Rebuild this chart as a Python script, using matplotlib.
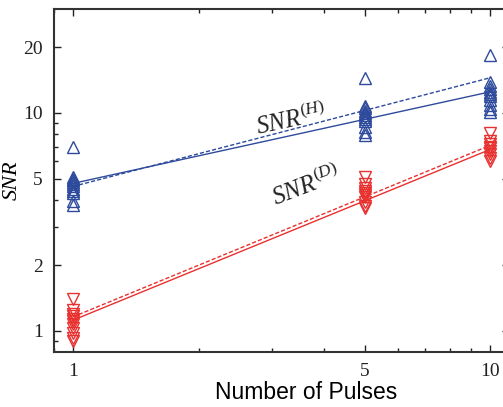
import numpy as np
import matplotlib.pyplot as plt
from matplotlib.ticker import FixedLocator, NullFormatter, LogLocator

snr_h_1 = [7.0, 5.1, 5.0, 4.9, 4.8, 4.7, 4.6, 4.5, 4.4, 4.3, 3.95, 3.8]
snr_h_5 = [14.5, 10.8, 10.5, 10.2, 10.0, 9.8, 9.6, 9.4, 9.2, 8.6, 8.2, 7.9]
snr_h_10 = [18.5, 13.8, 13.3, 12.9, 12.5, 12.2, 11.9, 11.5, 10.9, 10.4, 10.1]
snr_d_1 = [1.4, 1.25, 1.2, 1.17, 1.14, 1.11, 1.08, 1.03, 0.98, 0.93, 0.9]
snr_d_5 = [5.1, 4.7, 4.55, 4.4, 4.3, 4.2, 4.1, 3.9, 3.75, 3.65]
snr_d_10 = [8.1, 7.4, 7.2, 7.0, 6.9, 6.7, 6.5, 6.2, 6.0]

# fitted trends (solid) and predicted trends (dashed)
fit_x = [1, 10]
fit_h = [4.75, 12.5]
pred_h = [4.6, 14.5]
fit_d = [1.12, 6.8]
pred_d = [1.16, 7.1]

blue = "#2E4A9C"
red = "#E8312F"

plt.rcParams["font.family"] = "Liberation Serif"
plt.rcParams["mathtext.fontset"] = "custom"
plt.rcParams["mathtext.rm"] = "Liberation Serif"
plt.rcParams["mathtext.it"] = "Liberation Serif:italic"

fig = plt.figure(figsize=(5.03, 4.07), dpi=100)
ax = fig.add_axes([0.107, 0.135, 0.905, 0.843])

mk = dict(linestyle="none", markerfacecolor="none", markersize=8.5, markeredgewidth=1.0)
for n, vals in [(1, snr_h_1), (5, snr_h_5), (10, snr_h_10)]:
    ax.plot([n] * len(vals), vals, marker="^", color=blue, **mk)
for n, vals in [(1, snr_d_1), (5, snr_d_5), (10, snr_d_10)]:
    ax.plot([n] * len(vals), vals, marker="v", color=red, **mk)

ax.plot(fit_x, fit_h, color=blue, linewidth=1.0)
ax.plot(fit_x, pred_h, color=blue, linewidth=1.0, linestyle=(0, (3, 1.5)))
ax.plot(fit_x, fit_d, color=red, linewidth=1.0)
ax.plot(fit_x, pred_d, color=red, linewidth=1.0, linestyle=(0, (3, 1.5)))

ax.set_xscale("log")
ax.set_yscale("log")
ax.set_xlim(0.9, 11.1)
ax.set_ylim(0.8, 30)

ax.xaxis.set_major_locator(FixedLocator([1, 5, 10]))
ax.xaxis.set_major_formatter(plt.FixedFormatter(["1", "5", "10"]))
ax.xaxis.set_minor_locator(LogLocator(base=10, subs=np.arange(2, 10)))
ax.xaxis.set_minor_formatter(NullFormatter())
ax.yaxis.set_major_locator(FixedLocator([1, 2, 5, 10, 20]))
ax.yaxis.set_major_formatter(plt.FixedFormatter(["1", "2", "5", "10", "20"]))
ax.yaxis.set_minor_locator(FixedLocator([0.9, 3, 4, 6, 7, 8, 9]))
ax.yaxis.set_minor_formatter(NullFormatter())

ax.tick_params(which="both", direction="in", top=True, right=True, labelsize=14,
               width=1.0, colors="#222222")
ax.tick_params(which="major", length=5, pad=8)
ax.tick_params(which="minor", length=3)
for s in ax.spines.values():
    s.set_linewidth(1.5)
    s.set_color("#333333")

ax.set_xlabel("Number of Pulses", fontfamily="Liberation Sans", fontsize=16.5)
ax.xaxis.set_label_coords(0.555, -0.085)
ax.set_ylabel("SNR", fontstyle="italic", fontsize=16)
ax.yaxis.set_label_coords(-0.07, 0.5)

ax.text(3.33, 9.4, r"$SNR^{(H)}$", fontsize=18, rotation=12,
        ha="center", va="center", color="#222222")
ax.text(3.62, 4.65, r"$SNR^{(D)}$", fontsize=18, rotation=21,
        ha="center", va="center", color="#222222")

fig.savefig("out.png", dpi=100)
